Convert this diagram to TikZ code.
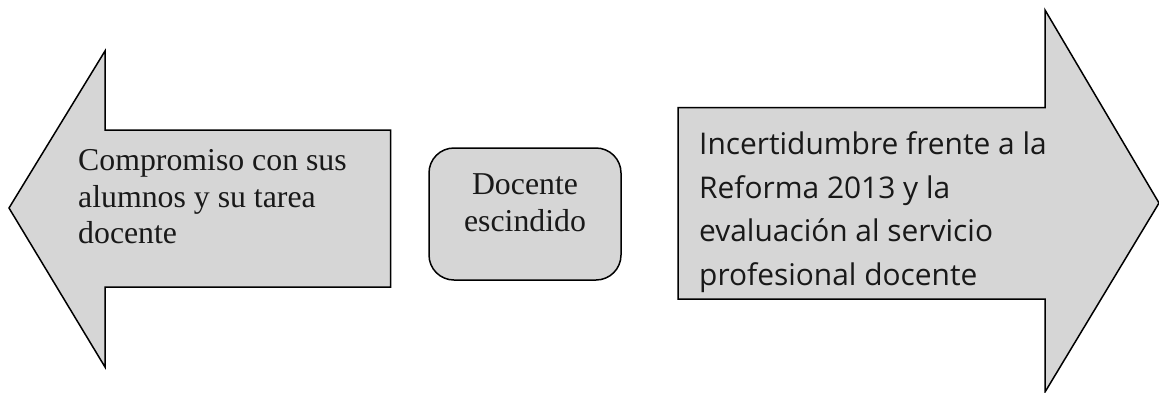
\documentclass[tikz,border=0pt]{standalone}
\usepackage{fontspec}
\setmainfont{Liberation Serif}
\newfontfamily\uisans{Open Sans}
\tikzset{
  shapefill/.style={draw=black,fill=black!16,line width=1.5pt,line join=miter},
  serifleft/.style={align=left,inner sep=0pt,font=\fontsize{31.8}{36.5}\selectfont,text=black!90},
  serifmid/.style={align=center,inner sep=0pt,font=\fontsize{31.8}{37}\selectfont,text=black!90},
  sansleft/.style={align=left,inner sep=0pt,font=\uisans\fontsize{29.9}{43.7}\selectfont,text=black!90}
}
\begin{document}
\begin{tikzpicture}[x=1pt,y=-1pt]
\useasboundingbox (0,0) rectangle (1159,392);
\fill[white] (0,0) rectangle (1159,392);
\draw[shapefill] (9,208) -- (105,51) -- (105,130) -- (390.5,130) -- (390.5,287) -- (105,287) -- (105,367) -- cycle;
\draw[shapefill] (678,107.5) -- (1045,107.5) -- (1045,10) -- (1159,203) -- (1045,392) -- (1045,299) -- (678,299) -- cycle;
\node[shapefill,rounded corners=25pt,minimum width=192pt,minimum height=132pt,inner sep=0pt] (box) at (525,214) {};
\node[serifleft,anchor=west] (left) at (78,197) {Compromiso con sus\\alumnos y su tarea\\docente};
\node[serifmid] (mid) at (525,203) {Docente\\escindido};
\node[sansleft,anchor=west] (right) at (699,212) {Incertidumbre frente a la\\Reforma 2013 y la\\evaluación al servicio\\profesional docente};
\end{tikzpicture}
\end{document}
